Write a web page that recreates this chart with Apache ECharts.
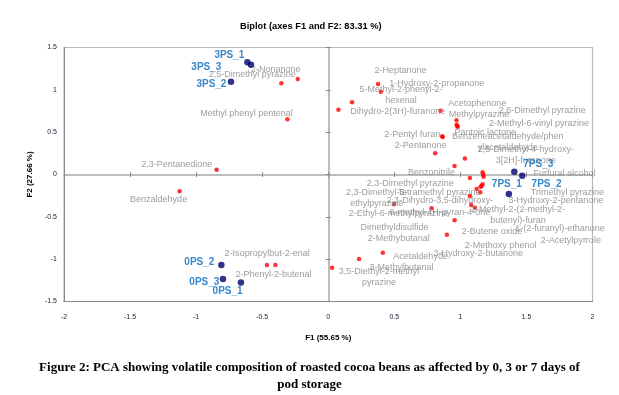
<!DOCTYPE html>
<html>
<head>
<meta charset="utf-8">
<script src="https://cdn.jsdelivr.net/npm/echarts@6/dist/echarts.min.js"></script>
<style>html,body{margin:0;padding:0;background:#fff;}#c{width:619px;height:395px;}</style>
</head>
<body>
<div id="c"></div>
<script>
// ---- Data ----
const varNames = [
  '2-Nonanone', '2,5-Dimethyl pyrazine', 'Methyl phenyl pentenal', '2-Heptanone',
  '1-Hydroxy-2-propanone', '5-Methyl-2-phenyl-2-\nhexenal', 'Dihydro-2(3H)-furanone', 'Acetophenone',
  'Methylpyrazine', '2,6-Dimethyl pyrazine', '2-Methyl-6-vinyl pyrazine', 'Pantoic lactone',
  '2-Pentyl furan', 'Benzeneacetaldehyde/phen\nylacetaldehyde', '2-Pentanone', '2,5-Dimethyl-4-hydroxy-\n3[2H]-furanone',
  'Benzonitrile', 'Furfural alcohol', '2,3-Dimethyl pyrazine', '2,3-Dimethyl-5-\nethylpyrazine',
  'Tetramethyl pyrazine', 'Trimethyl pyrazine', '2,3-Dihydro-3,5-dihydroxy-\n6-methyl-4H-pyran-4-one', '3-Hydroxy-2-pentanone',
  '2-Ethyl-6-methylpyrazine', '2-Methyl-2-(2-methyl-2-\nbutenyl)-furan', '1-(2-furanyl)-ethanone', '2-Acetylpyrrole',
  '2-Methoxy phenol', '2-Butene oxide', 'Dimethyldisulfide', '2-Methybutanal',
  '3-Hydroxy-2-butanone', 'Acetaldehyde', '3-Methylbutanal', '3,5-Diethyl-2-methyl\npyrazine',
  '2,3-Pentanedione', 'Benzaldehyde', '2-Isopropylbut-2-enal', '2-Phenyl-2-butenal'
];
const varF1 = [
  -0.355, -0.231, -0.309, 0.377,
  0.398, 0.180, 0.077, 0.850,
  0.971, 0.971, 0.979, 0.977,
  0.862, 0.867, 0.809, 1.034,
  1.072, 1.173, 0.956, 0.498,
  1.123, 1.168, 1.072, 1.150,
  0.782, 1.082, 1.110, 1.168,
  1.176, 0.898, 0.956, 1.153,
  1.161, 0.413, 0.233, 0.029,
  -0.845, -1.125, -0.464, -0.400
];
const varF2 = [
  1.077, 1.128, 0.652, 1.068,
  0.978, 0.852, 0.765, 0.753,
  0.640, 0.588, 0.564, 0.573,
  0.451, 0.443, 0.250, 0.189,
  -0.041, -0.002, 0.100, -0.352,
  -0.171, -0.116, -0.254, -0.210,
  -0.399, -0.360, -0.392, 0.026,
  -0.026, -0.711, -0.541, -0.144,
  -0.136, -0.923, -0.998, -1.100,
  0.057, -0.198, -1.068, -1.068
];
const obsNames = ['3PS_1', '3PS_3', '3PS_2', '7PS_3', '7PS_2', '7PS_1', '0PS_2', '0PS_3', '0PS_1'];
const obsF1 = [-0.612, -0.585, -0.736, 1.408, 1.468, 1.367, -0.809, -0.797, -0.661];
const obsF2 = [1.325, 1.296, 1.096, 0.033, -0.014, -0.230, -1.068, -1.234, -1.277];

// ---- Label placement (offset of label centre from its point, px) ----
const varLabelOffsets = [
  [-5.5, -14], [-45.5, -4], [-41, -6], [22.5, -14],
  [56, -7.7], [49, -7.1], [59.3, 2], [36.8, -7.4],
  [22.5, -6], [85.8, -14.7], [81.3, -3.4], [28, 6.3],
  [-30, -1.3], [65, 5], [-14.5, -8.3], [61, -3.5],
  [-38.3, -5.7], [81.2, -1.4], [-44.4, 17.3], [-17.3, -6.3],
  [-37.7, 3.3], [84.8, 8.4], [-30, 10.5], [75.7, 8.7],
  [-33, 5.7], [46.7, 10], [85, 20.6], [88.3, 68.4],
  [17, 69.3], [45, -3], [-60, 7.4], [-81.9, 52],
  [-3.4, 68], [37.8, 4], [42.4, 8.3], [47, 9.3],
  [-39.8, -4.7], [-21, 8.7], [0.2, -11], [-2, 9.3]
];
const obsLabelOffsets = [[-18, -7], [-44.6, 2], [-19.6, 2.6], [24, -7.7], [24.4, 8.6], [-2, -9.4], [-22, -2.3], [-18.6, 3.3], [-13.3, 9]];

const FONT = 'Liberation Sans, Arial, sans-serif';
const chart = echarts.init(document.getElementById('c'), null, { renderer: 'canvas' });

const varData = varNames.map((n, i) => ({ name: n, value: [varF1[i], varF2[i]], label: { offset: varLabelOffsets[i] } }));
const obsData = obsNames.map((n, i) => ({ name: n, value: [obsF1[i], obsF2[i]], label: { offset: obsLabelOffsets[i] } }));

function zeroX(pos) {
  return {
    type: 'value', min: -2, max: 2, interval: 0.5, position: pos,
    axisLine: { show: true, onZero: true, onZeroAxisIndex: 0, lineStyle: { color: '#b9b9b9', width: 1.5 } },
    axisTick: { show: true, length: 2.5, lineStyle: { color: '#8a8a8a', width: 1 } },
    axisLabel: { show: false }, splitLine: { show: false }
  };
}
function zeroY(pos) {
  return {
    type: 'value', min: -1.5, max: 1.5, interval: 0.5, position: pos,
    axisLine: { show: true, onZero: true, onZeroAxisIndex: 0, lineStyle: { color: '#b9b9b9', width: 1.5 } },
    axisTick: { show: true, length: 2.5, lineStyle: { color: '#8a8a8a', width: 1 } },
    axisLabel: { show: false }, splitLine: { show: false }
  };
}

chart.setOption({
  animation: false,
  backgroundColor: '#fff',
  title: [
    { text: 'Biplot (axes F1 and F2: 83.31 %)', left: 235, top: 17,
      textStyle: { fontFamily: FONT, fontSize: 9.3, fontWeight: 'bold', color: '#000' } },
    { text: 'Figure 2: PCA showing volatile composition of roasted cocoa beans as affected by 0, 3 or 7 days of\npod storage',
      left: 'center', top: 354.5,
      textStyle: { fontFamily: 'Liberation Serif, Times New Roman, serif', fontSize: 13, fontWeight: 'bold', lineHeight: 17, color: '#000' } }
  ],
  grid: { left: 64, top: 47.5, right: 26.5, bottom: 93.5, show: true, borderColor: '#b9b9b9', borderWidth: 1.2, backgroundColor: 'transparent' },
  xAxis: [
    { type: 'value', min: -2, max: 2, interval: 0.5, position: 'bottom',
      axisLine: { show: true, onZero: false, lineStyle: { color: '#8a8a8a', width: 1 } },
      axisTick: { show: false },
      axisLabel: { fontFamily: FONT, fontSize: 7, color: '#1a1a33', margin: 12 },
      splitLine: { show: false },
      name: 'F1 (55.65 %)', nameLocation: 'middle', nameGap: 32,
      nameTextStyle: { fontFamily: FONT, fontSize: 8, fontWeight: 'bold', color: '#000' } },
    zeroX('bottom'),
    zeroX('top')
  ],
  yAxis: [
    { type: 'value', min: -1.5, max: 1.5, interval: 0.5, position: 'left',
      axisLine: { show: true, onZero: false, lineStyle: { color: '#8a8a8a', width: 1 } },
      axisTick: { show: false },
      axisLabel: { fontFamily: FONT, fontSize: 7, color: '#1a1a33', margin: 7 },
      splitLine: { show: false },
      name: 'F2 (27.66 %)', nameLocation: 'middle', nameGap: 24,
      nameTextStyle: { fontFamily: FONT, fontSize: 8, fontWeight: 'bold', color: '#000' } },
    zeroY('left'),
    zeroY('right')
  ],
  series: [
    { type: 'scatter', name: 'Variables', xAxisIndex: 0, yAxisIndex: 0,
      symbolSize: 4.5, itemStyle: { color: '#ff0000' },
      label: { show: true, position: 'inside', formatter: '{b}', align: 'center', verticalAlign: 'middle',
        fontFamily: FONT, fontSize: 9, lineHeight: 11.5, color: '#858585' },
      data: varData, z: 3 },
    { type: 'scatter', name: 'Observations', xAxisIndex: 0, yAxisIndex: 0,
      symbolSize: 6.5, itemStyle: { color: '#000070' },
      label: { show: true, position: 'inside', formatter: '{b}', align: 'center', verticalAlign: 'middle',
        fontFamily: FONT, fontSize: 10, fontWeight: 'bold', color: '#0068bd' },
      data: obsData, z: 4 }
  ]
});
</script>
</body>
</html>
